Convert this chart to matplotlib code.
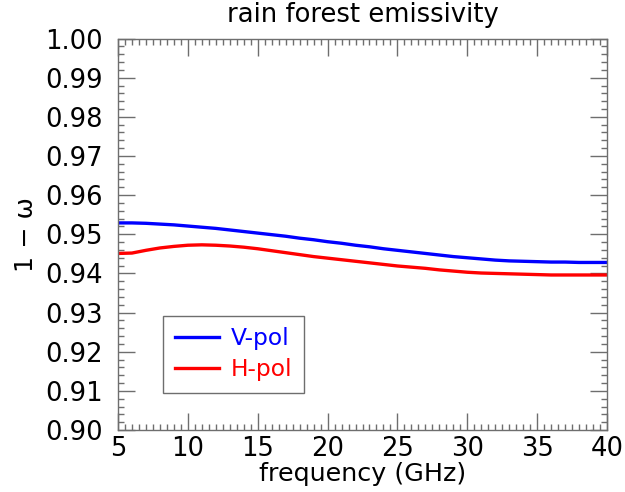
import matplotlib
matplotlib.use("Agg")
import matplotlib.pyplot as plt
from matplotlib.ticker import MultipleLocator

# frequency (GHz) and emissivity (1 - omega)
freq_ghz = list(range(5, 41))
v_pol = [
    0.9529, 0.9529, 0.9528, 0.9526, 0.9524, 0.9521, 0.9518, 0.9515, 0.9511, 0.9507,
    0.9503, 0.9499, 0.9495, 0.9490, 0.9486, 0.9481, 0.9477, 0.9472, 0.9468, 0.9463,
    0.9459, 0.9455, 0.9451, 0.9447, 0.9443, 0.9440, 0.9437, 0.9434, 0.9432, 0.9431,
    0.9430, 0.9429, 0.9429, 0.9428, 0.9428, 0.9428,
]
h_pol = [
    0.9451, 0.9452, 0.9459, 0.9465, 0.9469, 0.9472, 0.9473, 0.9472, 0.9470, 0.9467,
    0.9463, 0.9458, 0.9453, 0.9448, 0.9443, 0.9439, 0.9435, 0.9431, 0.9427, 0.9423,
    0.9419, 0.9416, 0.9413, 0.9409, 0.9406, 0.9403, 0.9401, 0.9400, 0.9399, 0.9398,
    0.9397, 0.9396, 0.9396, 0.9396, 0.9396, 0.9396,
]
series_labels = ["V-pol", "H-pol"]
series_colors = ["#0000ff", "#ff0000"]

AXIS_GREY = "#6e6e6e"
TICK_SIZE = 18.6
LABEL_SIZE = 18.3


def main() -> None:
    fig = plt.figure(figsize=(6.25, 4.92), dpi=100)
    ax = fig.add_axes([0.1888, 0.126, 0.7824, 0.7957])

    for values, label, color in zip((v_pol, h_pol), series_labels, series_colors):
        ax.plot(freq_ghz, values, color=color, lw=2.4, label=label)

    ax.set_xlim(5, 40)
    ax.set_ylim(0.90, 1.00)
    ax.xaxis.set_major_locator(MultipleLocator(5))
    ax.xaxis.set_minor_locator(MultipleLocator(0.5))
    ax.yaxis.set_major_locator(MultipleLocator(0.01))
    ax.yaxis.set_minor_locator(MultipleLocator(0.002))
    ax.yaxis.set_major_formatter(plt.FormatStrFormatter("%.2f"))

    for spine in ax.spines.values():
        spine.set_color(AXIS_GREY)
        spine.set_linewidth(1.0)
    ax.tick_params(which="both", direction="in", top=True, right=True,
                   color=AXIS_GREY, labelsize=TICK_SIZE, width=1.0)
    ax.tick_params(which="major", length=12.5)
    ax.tick_params(which="minor", length=4.5)
    ax.tick_params(axis="x", which="major", pad=4)
    ax.tick_params(axis="y", which="major", pad=11)

    ax.set_xlabel("frequency (GHz)", fontsize=LABEL_SIZE, labelpad=0)
    ax.set_ylabel("1 \u2212 \u03c9", fontsize=LABEL_SIZE, labelpad=5)
    ax.set_title("rain forest emissivity", fontsize=18.6, pad=12)

    legend = ax.legend(loc="lower left", bbox_to_anchor=(0.092, 0.0945),
                       fontsize=16.8, fancybox=False, framealpha=1,
                       edgecolor=AXIS_GREY, handlelength=1.9, handletextpad=0.5,
                       borderpad=0.5, labelspacing=0.35, borderaxespad=0)
    legend.get_frame().set_linewidth(1.0)
    for text, color in zip(legend.get_texts(), series_colors):
        text.set_color(color)

    fig.savefig("out.png", dpi=100)
    plt.close(fig)


if __name__ == "__main__":
    main()
